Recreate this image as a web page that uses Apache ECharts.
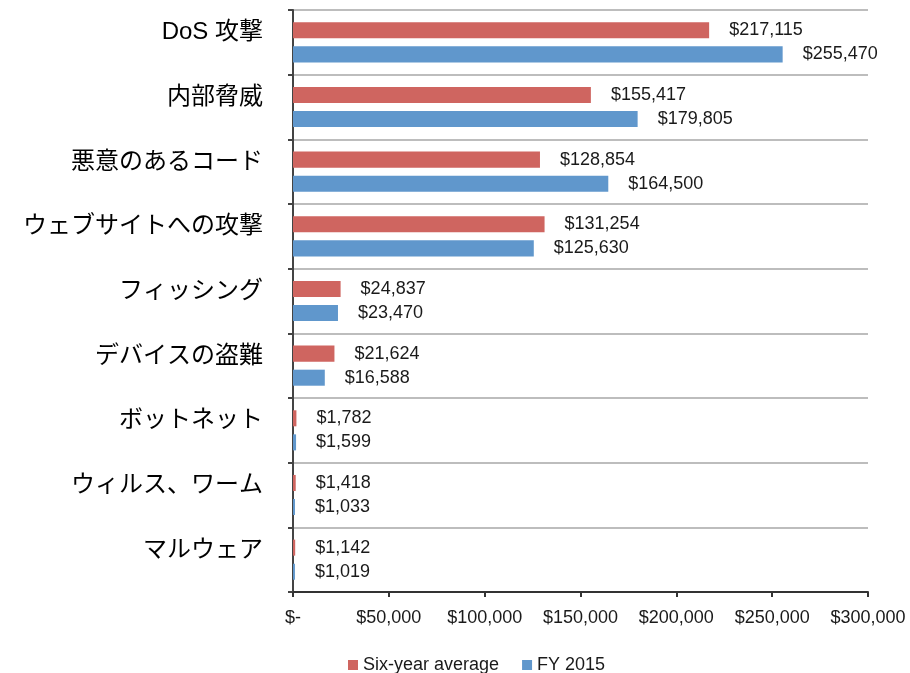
<!DOCTYPE html>
<html>
<head>
<meta charset="utf-8">
<script src="https://cdn.jsdelivr.net/npm/echarts@6/dist/echarts.min.js"></script>
<style>
  html, body { margin: 0; padding: 0; background: #fff; }
  #chart { width: 910px; height: 673px; }
</style>
</head>
<body>
<div id="chart"></div>
<script>
const categories = ['DoS 攻撃', '内部脅威', '悪意のあるコード', 'ウェブサイトへの攻撃', 'フィッシング',
  'デバイスの盗難', 'ボットネット', 'ウィルス、ワーム', 'マルウェア'];
const sixYearAvg = [217115, 155417, 128854, 131254, 24837, 21624, 1782, 1418, 1142];
const fy2015 = [255470, 179805, 164500, 125630, 23470, 16588, 1599, 1033, 1019];
const xTickLabels = ['$-', '$50,000', '$100,000', '$150,000', '$200,000', '$250,000', '$300,000'];

const fmt = v => '$' + v.toLocaleString('en-US');
const fontNum = 'Liberation Sans, Arial, sans-serif';

function valueLabel() {
  return {
    show: true, position: 'right', distance: 20,
    fontFamily: fontNum, fontSize: 18, color: '#1a1a1a',
    formatter: p => fmt(p.value)
  };
}

const chart = echarts.init(document.getElementById('chart'));
chart.setOption({
  animation: false,
  grid: { left: 293, right: 42, top: 10, bottom: 81 },
  legend: {
    top: 651,
    left: 343,
    itemWidth: 10,
    itemHeight: 10,
    itemGap: 23,
    icon: 'rect',
    textStyle: { fontFamily: fontNum, fontSize: 18, color: '#1a1a1a' },
    data: ['Six-year average', 'FY 2015']
  },
  xAxis: {
    type: 'value',
    min: 0,
    max: 300000,
    interval: 50000,
    axisLine: { show: true, lineStyle: { color: '#333', width: 2 } },
    axisTick: { show: true, length: 5, lineStyle: { color: '#333', width: 2 } },
    splitLine: { show: false },
    axisLabel: {
      margin: 17,
      fontFamily: fontNum,
      fontSize: 18,
      color: '#1a1a1a',
      formatter: (v, i) => xTickLabels[i]
    }
  },
  yAxis: {
    type: 'category',
    inverse: true,
    data: categories,
    axisLine: { show: true, lineStyle: { color: '#444', width: 2 } },
    axisTick: { show: true, length: 5, lineStyle: { color: '#444', width: 2 } },
    splitLine: { show: true, lineStyle: { color: '#bdbdbd', width: 2 } },
    axisLabel: {
      margin: 30,
      fontFamily: 'Liberation Sans, Noto Sans CJK JP, sans-serif',
      fontSize: 24,
      lineHeight: 19,
      verticalAlign: 'bottom',
      color: '#000'
    }
  },
  series: [
    {
      name: 'Six-year average',
      type: 'bar',
      data: sixYearAvg,
      barGap: '50%',
      barCategoryGap: '38%',
      itemStyle: { color: '#cf6560' },
      label: valueLabel()
    },
    {
      name: 'FY 2015',
      type: 'bar',
      data: fy2015,
      barGap: '50%',
      barCategoryGap: '38%',
      itemStyle: { color: '#6097cc' },
      label: valueLabel()
    }
  ]
});
</script>
</body>
</html>
